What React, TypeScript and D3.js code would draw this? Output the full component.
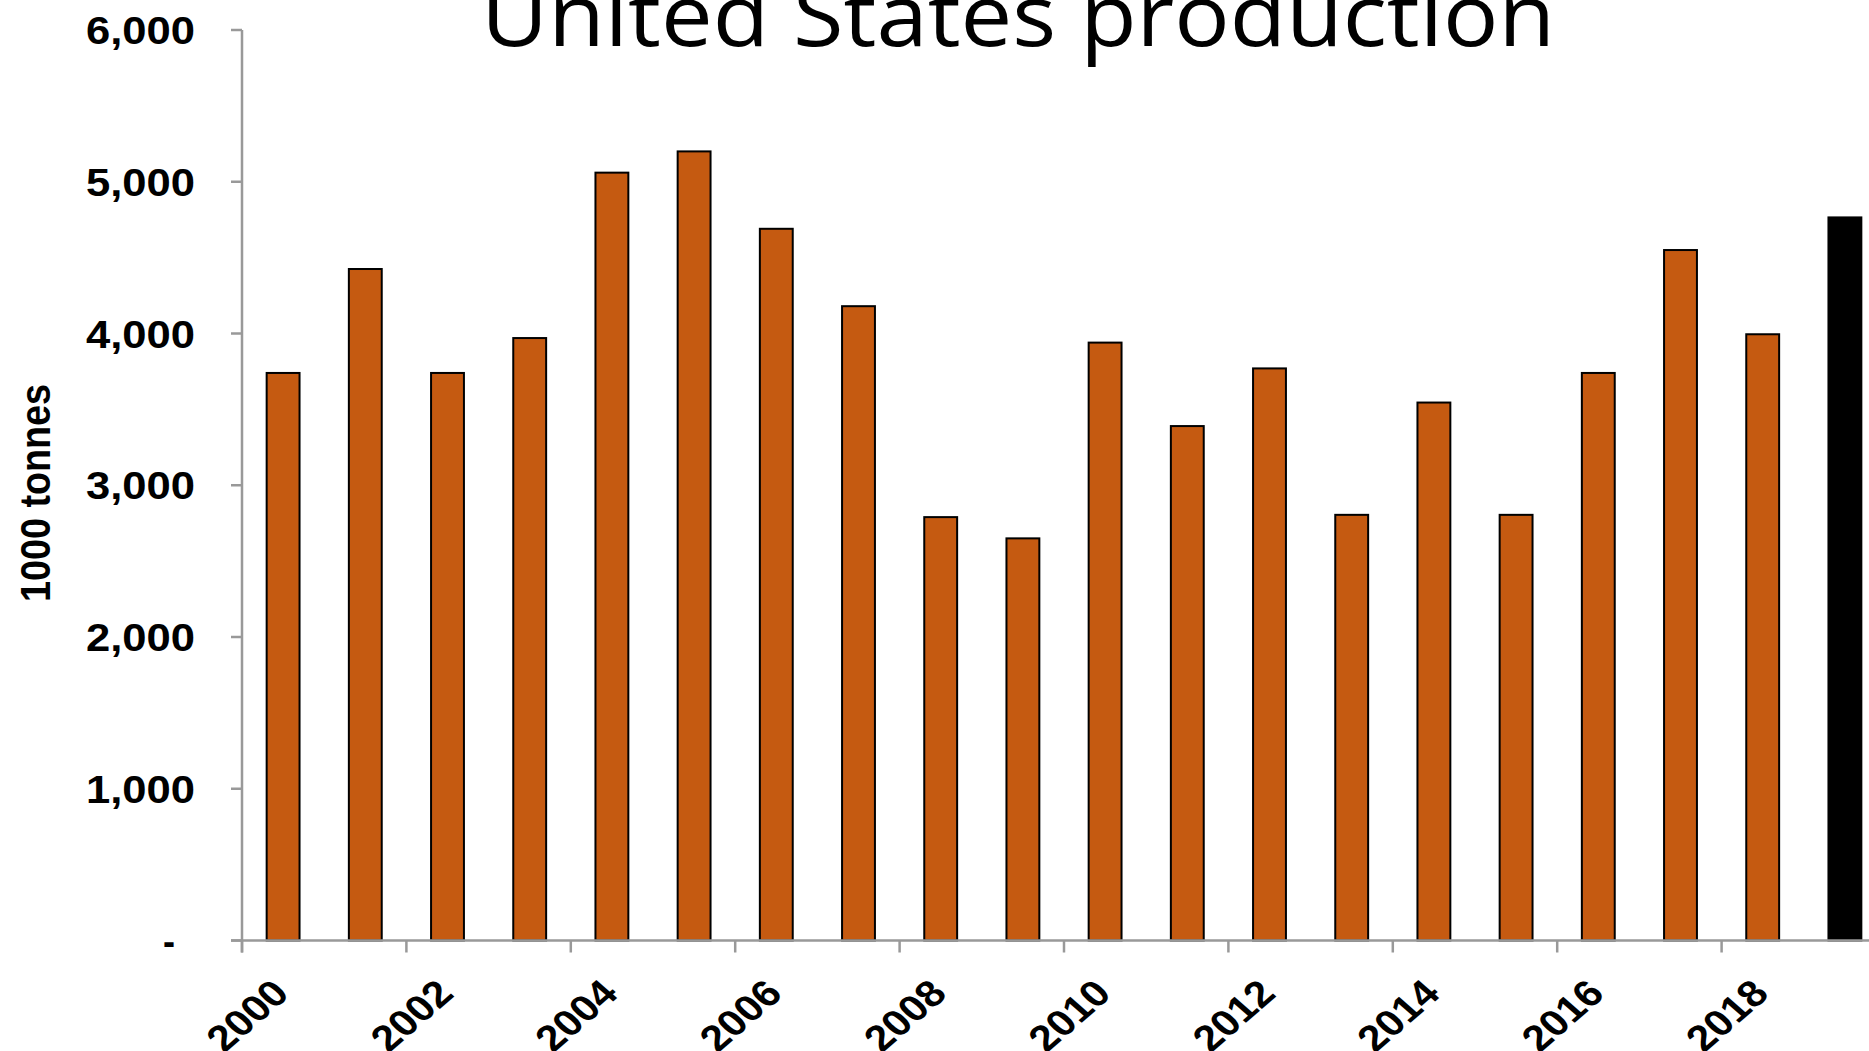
import React from 'react';
import * as d3 from 'd3';

const years: number[] = [
  2000, 2001, 2002, 2003, 2004, 2005, 2006, 2007, 2008, 2009,
  2010, 2011, 2012, 2013, 2014, 2015, 2016, 2017, 2018, 2019,
];
const production: number[] = [
  3740, 4425, 3740, 3970, 5060, 5200, 4690, 4180, 2790, 2650,
  3940, 3390, 3770, 2805, 3545, 2805, 3740, 4550, 3995, 4765,
];
const highlightYear = 2019;
const yTicks: number[] = [0, 1000, 2000, 3000, 4000, 5000, 6000];
const xTickYears: number[] = [2000, 2002, 2004, 2006, 2008, 2010, 2012, 2014, 2016, 2018];

const title = 'United States production';
const yLabel = '1000 tonnes';

const W = 1869;
const H = 1051;
const left = 242;
const step = 82.2;
// the source picture is stretched sideways a little
const stretch = 1.15;

const App: React.FC = () => {
  const x = d3.scaleBand<number>()
    .domain(years)
    .range([left, left + step * years.length])
    .paddingInner(0.6)
    .paddingOuter(0.3);
  const y = d3.scaleLinear([0, 6000], [940.5, 30]);
  const fmt = d3.format(',');
  const axisColor = '#999999';
  const labelFont = '"Liberation Sans", Arial, sans-serif';

  return (
    <svg width={W} height={H} style={{ position: 'absolute', left: 0, top: 0 }}>
      <rect width={W} height={H} fill="white" />

      <text
        x={1018}
        y={46}
        textAnchor="middle"
        fontFamily='"Open Sans", sans-serif'
        fontSize={86}
        textLength={1074}
        lengthAdjust="spacingAndGlyphs"
        fill="#000"
      >
        {title}
      </text>

      {/* bars */}
      {years.map((yr, i) => (
        <rect
          key={yr}
          x={x(yr)}
          y={y(production[i])}
          width={x.bandwidth()}
          height={y(0) - y(production[i])}
          fill={yr === highlightYear ? '#000000' : '#C55A11'}
          stroke="#000"
          strokeWidth={2}
        />
      ))}

      {/* y axis */}
      <line x1={left} x2={left} y1={y(6000)} y2={y(0) + 12} stroke={axisColor} strokeWidth={2.5} />
      {yTicks.map((t) => (
        <g key={t}>
          <line x1={left - 11} x2={left} y1={y(t)} y2={y(t)} stroke={axisColor} strokeWidth={2.5} />
          <text
            x={t === 0 ? 175 : 195}
            y={y(t) + 14}
            textAnchor="end"
            fontFamily={labelFont}
            fontWeight="bold"
            fontSize={38}
            textLength={t === 0 ? 12 : 109}
            lengthAdjust="spacingAndGlyphs"
          >
            {t === 0 ? '-' : fmt(t)}
          </text>
        </g>
      ))}

      {/* x axis */}
      <line x1={left - 11} x2={W} y1={y(0)} y2={y(0)} stroke={axisColor} strokeWidth={2.5} />
      {xTickYears.map((yr) => {
        const tx = x(yr)! - (x.step() - x.bandwidth()) / 2;
        const cx = x(yr)! + x.bandwidth() / 2;
        return (
          <g key={yr}>
            <line x1={tx} x2={tx} y1={y(0)} y2={y(0) + 12} stroke={axisColor} strokeWidth={2.5} />
            <text
              transform={`translate(${cx + 8},${y(0) + 55}) scale(${stretch},1) rotate(-45)`}
              textAnchor="end"
              fontFamily={labelFont}
              fontWeight="bold"
              fontSize={37}
            >
              {yr}
            </text>
          </g>
        );
      })}

      <text
        transform={`translate(50,493) scale(${stretch},1) rotate(-90)`}
        textAnchor="middle"
        fontFamily={labelFont}
        fontWeight="bold"
        fontSize={37}
        textLength={218}
        lengthAdjust="spacingAndGlyphs"
        fill="#000"
      >
        {yLabel}
      </text>
    </svg>
  );
};

export default App;
